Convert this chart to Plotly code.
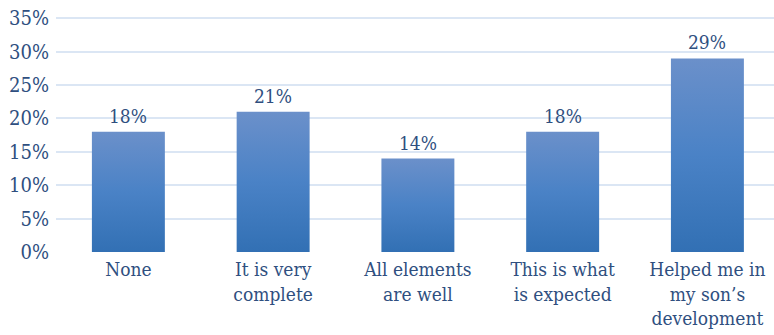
import plotly.graph_objects as go

# Survey responses
categories = ["None", "It is very<br>complete", "All elements<br>are well",
              "This is what<br>is expected", "Helped me in<br>my son’s<br>development"]
shares = [18, 21, 14, 18, 29]
y_ticks = [0, 5, 10, 15, 20, 25, 30, 35]

FONT = "DejaVu Serif Condensed, DejaVu Serif, serif"
TEXT_COLOR = "#2f4f7f"
BAR_HALF = 0.252

fig = go.Figure()

# Each bar is a filled polygon so it can carry a vertical gradient
for i, v in enumerate(shares):
    fig.add_trace(go.Scatter(
        x=[i - BAR_HALF, i - BAR_HALF, i + BAR_HALF, i + BAR_HALF, i - BAR_HALF],
        y=[0, v, v, 0, 0],
        mode="lines",
        line=dict(width=0),
        fill="toself",
        fillgradient=dict(type="vertical",
                          colorscale=[[0, "#3270b4"], [0.5, "#4a82c6"], [1, "#6b90ca"]]),
        hoverinfo="skip",
        showlegend=False,
    ))

# Value labels above the bars
for i, v in enumerate(shares):
    fig.add_annotation(
        x=i, y=v, text=f"{v}%",
        showarrow=False, yanchor="bottom", yshift=3,
        font=dict(family=FONT, size=19, color=TEXT_COLOR),
    )

fig.update_layout(
    width=774, height=335,
    margin=dict(l=56, r=0, t=15, b=83),
    paper_bgcolor="white",
    plot_bgcolor="white",
    font=dict(family=FONT, size=19, color=TEXT_COLOR),
    xaxis=dict(
        range=[-0.5, 4.46],
        tickmode="array",
        tickvals=list(range(len(categories))),
        ticktext=categories,
        showgrid=False,
        zeroline=False,
        showline=False,
        ticks="",
        ticklabelstandoff=4,
        fixedrange=True,
    ),
    yaxis=dict(
        range=[0, 35.5],
        tickmode="array",
        tickvals=y_ticks,
        ticktext=[f"{t}%" for t in y_ticks],
        tickfont=dict(size=20),
        showgrid=True,
        gridcolor="#dbe6f4",
        gridwidth=2,
        zeroline=False,
        showline=False,
        ticks="",
        ticklabelstandoff=6,
        fixedrange=True,
    ),
)

fig.write_html("out.html")
